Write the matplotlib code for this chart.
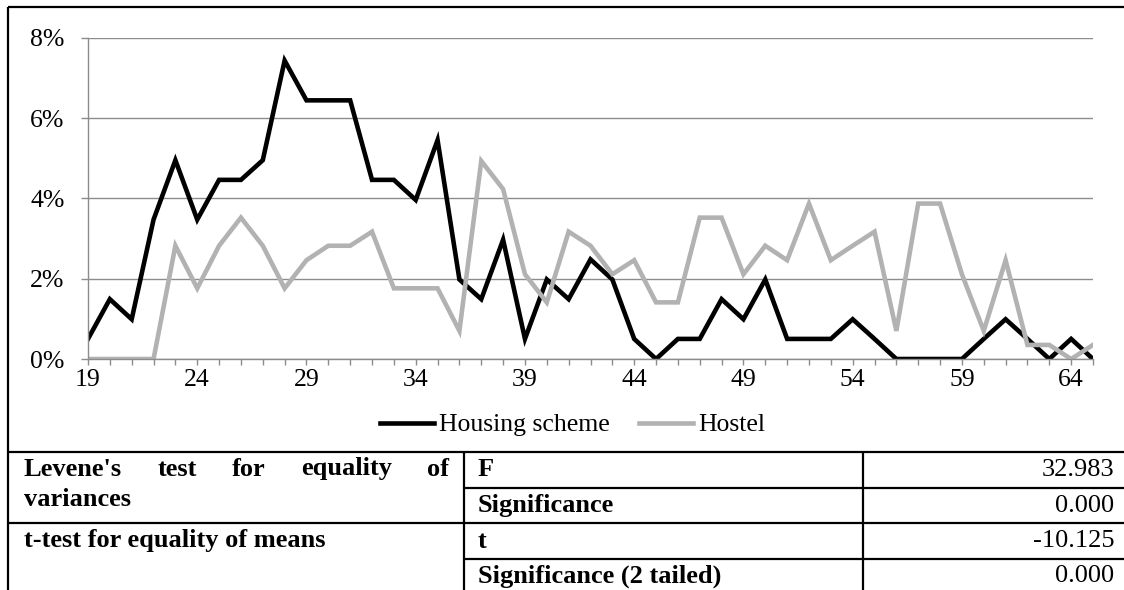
import numpy as np
import matplotlib.pyplot as plt
from matplotlib.lines import Line2D
from matplotlib.ticker import MultipleLocator, FuncFormatter

# ages and share of respondents (%)
ages = list(range(19, 66))
housing = [0.50, 1.49, 0.99, 3.47, 4.95, 3.47, 4.46, 4.46, 4.95, 7.43,
           6.44, 6.44, 6.44, 4.46, 4.46, 3.96, 5.45, 1.98, 1.49, 2.97,
           0.50, 1.98, 1.49, 2.48, 1.98, 0.50, 0.00, 0.50, 0.50, 1.49,
           0.99, 1.98, 0.50, 0.50, 0.50, 0.99, 0.50, 0.00, 0.00, 0.00,
           0.00, 0.50, 0.99, 0.50, 0.00, 0.50, 0.00]
hostel = [0.00, 0.00, 0.00, 0.00, 2.82, 1.76, 2.82, 3.52, 2.82, 1.76,
          2.46, 2.82, 2.82, 3.17, 1.76, 1.76, 1.76, 0.70, 4.93, 4.23,
          2.11, 1.41, 3.17, 2.82, 2.11, 2.46, 1.41, 1.41, 3.52, 3.52,
          2.11, 2.82, 2.46, 3.87, 2.46, 2.82, 3.17, 0.70, 3.87, 3.87,
          2.11, 0.70, 2.46, 0.35, 0.35, 0.00, 0.35]
series_names = ["Housing scheme", "Hostel"]

# statistics table
levene_label = "Levene's test for equality of"
levene_label2 = "variances"
ttest_label = "t-test for equality of means"
stat_names = ["F", "Significance", "t", "Significance (2 tailed)"]
stat_values = ["32.983", "0.000", "-10.125", "0.000"]

W, H = 1124, 590
plt.rcParams['font.family'] = ['Liberation Serif', 'DejaVu Serif']
fig = plt.figure(figsize=(W / 100, H / 100), dpi=100)


def fx(px):
    return px / W


def fy(py):
    return 1 - py / H


ax = fig.add_axes([fx(88), fy(359), fx(1093) - fx(88), fy(37.7) - fy(359)])
ax.plot(ages, np.array(housing) / 100, color='black', lw=3.3,
        solid_joinstyle='miter', label=series_names[0])
ax.plot(ages, np.array(hostel) / 100, color='#b2b2b2', lw=3.3,
        solid_joinstyle='miter', label=series_names[1])
ax.set_xlim(19, 65)
ax.set_ylim(0, 0.08)
ax.xaxis.set_major_locator(MultipleLocator(1))
ax.xaxis.set_major_formatter(FuncFormatter(
    lambda v, p: f"{int(round(v))}" if (round(v) - 19) % 5 == 0 else ""))
ax.yaxis.set_major_locator(MultipleLocator(0.02))
ax.yaxis.set_major_formatter(FuncFormatter(lambda v, p: f"{v * 100:.0f}%"))
ax.grid(axis='y', color='#8c8c8c', lw=1.0)
ax.set_axisbelow(True)
for s in ['top', 'right']:
    ax.spines[s].set_visible(False)
for s in ['left', 'bottom']:
    ax.spines[s].set_color('#8c8c8c')
    ax.spines[s].set_linewidth(1.0)
ax.tick_params(axis='x', direction='out', length=4.5, width=1.0,
               color='#8c8c8c', labelsize=18.5, pad=3)
ax.tick_params(axis='y', direction='out', length=5, width=1.0,
               color='#8c8c8c', labelsize=18.5, pad=12)

fig.legend(loc='center', bbox_to_anchor=(fx(572.5), fy(425)), ncol=2,
           frameon=False, fontsize=18.5, handlelength=2.1,
           handletextpad=0.2, columnspacing=1.15)

# outer frame and table grid
frame_kw = dict(color='black', lw=1.6, solid_capstyle='butt')


def hline(py, x0, x1):
    fig.add_artist(Line2D([fx(x0), fx(x1)], [fy(py), fy(py)], **frame_kw))


def vline(px, y0, y1):
    fig.add_artist(Line2D([fx(px), fx(px)], [fy(y0), fy(y1)], **frame_kw))


hline(7, 8, W)
vline(8, 7, H)
row_tops = [452, 487.5, 523, 558.5]
hline(row_tops[0], 8, W)
hline(row_tops[2], 8, W)
hline(row_tops[1], 464, W)
hline(row_tops[3], 464, W)
vline(464, row_tops[0], H)
vline(863, row_tops[0], H)

bold = dict(fontsize=19, fontweight='bold', va='center')
for i, (name, val) in enumerate(zip(stat_names, stat_values)):
    yc = row_tops[i] + 18
    fig.text(fx(478), fy(yc), name, ha='left', **bold)
    fig.text(fx(1114), fy(yc), val, ha='right', fontsize=19, va='center')

# justified first line of the merged Levene cell
words = levene_label.split()
texts = [fig.text(0, fy(469), w, ha='left', **bold) for w in words]
renderer = fig.canvas.get_renderer()
widths = [t.get_window_extent(renderer).width for t in texts]
left, right = 24, 449
gap = (right - left - sum(widths)) / (len(words) - 1)
x = left
for t, w in zip(texts, widths):
    t.set_x(fx(x))
    x += w + gap
fig.text(fx(24), fy(500), levene_label2, ha='left', **bold)
fig.text(fx(24), fy(540), ttest_label, ha='left', **bold)

fig.savefig('out.png', dpi=100)
